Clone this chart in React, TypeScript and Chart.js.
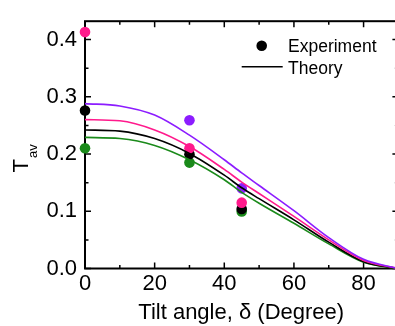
import React, { useEffect, useRef } from "react";
import { Chart, registerables } from "chart.js";

Chart.register(...registerables);

// Theory curves
const angles = [0, 10, 20, 30, 40, 45, 50, 60, 70, 80, 90];
const theoryPurple = [0.288, 0.284, 0.268, 0.233, 0.19, 0.167, 0.145, 0.101, 0.054, 0.016, 0];
const theoryPink = [0.26, 0.258, 0.242, 0.213, 0.173, 0.151, 0.131, 0.091, 0.05, 0.014, 0];
const theoryBlack = [0.242, 0.24, 0.227, 0.201, 0.163, 0.141, 0.122, 0.085, 0.046, 0.012, 0];
const theoryGreen = [0.229, 0.227, 0.215, 0.19, 0.155, 0.133, 0.114, 0.079, 0.043, 0.011, 0];

// Experiment points
const expAngles = [0, 30, 45];
const expPink = [0.413, 0.21, 0.115];
const expBlack = [0.276, 0.1995, 0.104];
const expGreen = [0.21, 0.185, 0.0995];
const expPurpleAngles = [30, 45];
const expPurple = [0.259, 0.14];

const xTicks = [0, 20, 40, 60, 80];
const xMinorTicks = [10, 30, 50, 70];
const yTicks = [0, 0.1, 0.2, 0.3, 0.4];
const yMinorTicks = [0.05, 0.15, 0.25, 0.35];

const PURPLE = "#8c1cff";
const PINK = "#ff1a8c";
const BLACK = "#000000";
const GREEN = "#1a8a1a";
const FONT = "'Liberation Sans', Arial, sans-serif";

const pts = (xs: number[], ys: number[]) => xs.map((x, i) => ({ x, y: ys[i] }));

const framePlugin = {
  id: "frame",
  beforeDatasetsDraw(chart: any) {
    const { ctx, chartArea } = chart;
    const xs = chart.scales.x;
    const ys = chart.scales.y;
    const { left, right, top, bottom } = chartArea;
    ctx.save();
    ctx.strokeStyle = "#000";
    ctx.lineWidth = 2;
    ctx.strokeRect(left, top, right - left, bottom - top);
    ctx.lineWidth = 1.5;
    const major = 6;
    const minor = 3.5;
    ctx.beginPath();
    const xt = (v: number, len: number) => {
      const p = xs.getPixelForValue(v);
      ctx.moveTo(p, bottom);
      ctx.lineTo(p, bottom - len);
      ctx.moveTo(p, top);
      ctx.lineTo(p, top + len);
    };
    const yt = (v: number, len: number) => {
      const p = ys.getPixelForValue(v);
      ctx.moveTo(left, p);
      ctx.lineTo(left + len, p);
      ctx.moveTo(right, p);
      ctx.lineTo(right - len, p);
    };
    xTicks.forEach((v) => xt(v, major));
    xMinorTicks.forEach((v) => xt(v, minor));
    yTicks.forEach((v) => yt(v, major));
    yMinorTicks.forEach((v) => yt(v, minor));
    ctx.stroke();
    ctx.restore();
  },
  afterDraw(chart: any) {
    const { ctx, chartArea } = chart;
    ctx.save();
    ctx.fillStyle = "#000";
    // x title
    ctx.font = `22px ${FONT}`;
    ctx.textAlign = "center";
    ctx.textBaseline = "alphabetic";
    ctx.fillText("Tilt angle, δ (Degree)", (chartArea.left + chartArea.right) / 2 - 0.5, 318.5);
    // y title
    ctx.save();
    ctx.translate(28.3, 172.5);
    ctx.rotate(-Math.PI / 2);
    ctx.textAlign = "left";
    ctx.font = `22px ${FONT}`;
    ctx.fillText("T", 0, 0);
    const tw = ctx.measureText("T").width;
    ctx.font = `13px ${FONT}`;
    ctx.fillText("av", tw + 1, 9);
    ctx.restore();
    // legend
    ctx.font = `17.5px ${FONT}`;
    ctx.textAlign = "left";
    ctx.beginPath();
    ctx.arc(261.7, 45.7, 5.3, 0, Math.PI * 2);
    ctx.fill();
    ctx.fillText("Experiment", 288, 51.7);
    ctx.strokeStyle = "#000";
    ctx.lineWidth = 1.6;
    ctx.beginPath();
    ctx.moveTo(241.7, 66.7);
    ctx.lineTo(282.7, 66.7);
    ctx.stroke();
    ctx.fillText("Theory", 288, 74);
    ctx.restore();
  },
};

export default function App() {
  const ref = useRef<HTMLCanvasElement | null>(null);
  useEffect(() => {
    if (!ref.current) return;
    const lineDs = (label: string, ys: number[], color: string) => ({
      label,
      data: pts(angles, ys),
      borderColor: color,
      backgroundColor: color,
      borderWidth: 1.6,
      pointRadius: 0,
      cubicInterpolationMode: "monotone" as const,
      showLine: true,
      clip: false as any,
    });
    const dotDs = (label: string, xs: number[], ys: number[], color: string) => ({
      label,
      data: pts(xs, ys),
      borderColor: color,
      backgroundColor: color,
      pointRadius: 5.3,
      pointBorderWidth: 0,
      showLine: false,
      clip: false as any,
    });
    const chart = new Chart(ref.current, {
      type: "line",
      data: {
        datasets: [
          lineDs("Theory purple", theoryPurple, PURPLE),
          lineDs("Theory pink", theoryPink, PINK),
          lineDs("Theory black", theoryBlack, BLACK),
          lineDs("Theory green", theoryGreen, GREEN),
          dotDs("Exp pink", expAngles, expPink, PINK),
          dotDs("Exp purple", expPurpleAngles, expPurple, PURPLE),
          dotDs("Exp black", expAngles, expBlack, BLACK),
          dotDs("Exp green", expAngles, expGreen, GREEN),
        ] as any,
      },
      options: {
        responsive: false,
        animation: false,
        devicePixelRatio: 1,
        layout: { padding: { left: 0, top: 14, right: 405 - 398.4, bottom: 0 } },
        plugins: { legend: { display: false }, tooltip: { enabled: false } },
        scales: {
          x: {
            type: "linear",
            min: 0,
            max: 90,
            grid: { display: false, drawTicks: false },
            border: { display: false },
            ticks: {
              stepSize: 20,
              includeBounds: false,
              padding: 2,
              color: "#000",
              font: { family: FONT, size: 22 },
              maxRotation: 0,
            },
            afterFit: (s: any) => {
              s.height = 326 - 268.5;
            },
          },
          y: {
            type: "linear",
            min: 0,
            max: 0.432,
            grid: { display: false, drawTicks: false },
            border: { display: false },
            ticks: {
              stepSize: 0.1,
              includeBounds: false,
              padding: 8,
              color: "#000",
              font: { family: FONT, size: 22 },
              callback: (v: any) => Number(v).toFixed(1),
            },
            afterFit: (s: any) => {
              s.width = 85;
            },
          },
        },
      },
      plugins: [framePlugin],
    });
    return () => chart.destroy();
  }, []);
  return (
    <div style={{ position: "absolute", left: 0, top: 0, width: 395, height: 326, overflow: "hidden", background: "#fff" }}>
      <canvas ref={ref} width={405} height={326} style={{ display: "block" }} />
    </div>
  );
}
